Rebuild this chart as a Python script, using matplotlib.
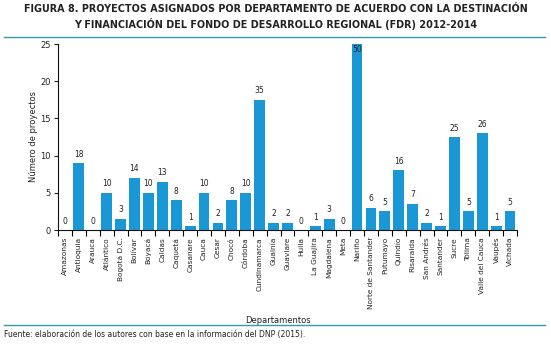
import matplotlib
matplotlib.use("Agg")
import matplotlib.pyplot as plt
from matplotlib.lines import Line2D
from matplotlib.ticker import FuncFormatter, FixedLocator
import numpy as np

plt.rcParams['font.family'] = ['Liberation Sans Narrow', 'DejaVu Sans']

departamentos = [
    "Amazonas", "Antioquia", "Arauca", "Atlántico", "Bogotá D.C.", "Bolívar",
    "Boyacá", "Caldas", "Caquetá", "Casanare", "Cauca", "Cesar", "Chocó",
    "Córdoba", "Cundinamarca", "Guainía", "Guaviare", "Huila", "La Guajira",
    "Magdalena", "Meta", "Nariño", "Norte de Santander", "Putumayo", "Quindío",
    "Risaralda", "San Andrés", "Santander", "Sucre", "Tolima",
    "Valle del Cauca", "Vaupés", "Vichada",
]
proyectos = [0, 18, 0, 10, 3, 14, 10, 13, 8, 1, 10, 2, 8, 10, 35, 2, 2, 0, 1,
             3, 0, 50, 6, 5, 16, 7, 2, 1, 25, 5, 26, 1, 5]
ytick_labels = [0, 5, 10, 15, 20, 25]

titulo = ("FIGURA 8. PROYECTOS ASIGNADOS POR DEPARTAMENTO DE ACUERDO CON LA DESTINACIÓN\n"
          "Y FINANCIACIÓN DEL FONDO DE DESARROLLO REGIONAL (FDR) 2012-2014")
fuente = "Fuente: elaboración de los autores con base en la información del DNP (2015)."

bar_color = "#1a98d5"
rule_color = "#3796ad"

fig = plt.figure(figsize=(5.51, 3.46), dpi=100)
ax = fig.add_axes([58 / 551, 1 - 230 / 346, (517 - 58) / 551, (230 - 44) / 346])

x = np.arange(len(departamentos))
ax.bar(x, proyectos, width=0.78, color=bar_color, zorder=2)

ymax = 50
for xi, v in zip(x, proyectos):
    if v + 3 > ymax:
        ax.text(xi, v - 0.4, str(v), ha="center", va="top", fontsize=5.5,
                color="#222222", zorder=3)
    else:
        ax.text(xi, v + 1.2, str(v), ha="center", va="bottom", fontsize=5.5,
                color="#222222", zorder=3)

# y axis: counts are shown at half scale (tick labels 0..25 over 0..50)
ax.set_ylim(0, ymax)
ax.yaxis.set_major_locator(FixedLocator([2 * t for t in ytick_labels]))
ax.yaxis.set_major_formatter(FuncFormatter(lambda v, _: f"{v / 2:g}"))
ax.tick_params(axis="y", labelsize=6, length=3, width=0.8, pad=2,
               colors="#222222")

ax.set_xlim(-0.5, len(departamentos) - 0.5)
ax.set_xticks(x)
ax.set_xticklabels(departamentos, rotation=90, fontsize=5.3, color="#222222")
ax.tick_params(axis="x", length=0, pad=5)
ax.set_xticks(np.arange(len(departamentos) + 1) - 0.5, minor=True)
ax.tick_params(axis="x", which="minor", length=4, width=0.8, direction="out")

for side in ("top", "right"):
    ax.spines[side].set_visible(False)
for side in ("left", "bottom"):
    ax.spines[side].set_linewidth(0.8)
    ax.spines[side].set_color("#111111")

ax.set_ylabel("Número de proyectos", fontsize=6, color="#222222")
ax.yaxis.set_label_coords(-(58 - 38) / (517 - 58), 0.5)
ax.set_xlabel("Departamentos", fontsize=6, color="#222222")
ax.xaxis.set_label_coords((278 - 58) / (517 - 58), -(316 - 230) / (230 - 44))

fig.text(0.5, 1 - 17 / 346, titulo, ha="center", va="center", fontsize=6.9,
         fontweight="bold", color="#222222", linespacing=1.3)

fig.add_artist(Line2D([4 / 551, 545 / 551], [1 - 37 / 346] * 2,
                      color=rule_color, lw=1.0))
fig.add_artist(Line2D([4 / 551, 545 / 551], [1 - 325 / 346] * 2,
                      color=rule_color, lw=1.0))
fig.text(4 / 551, 1 - 335 / 346, fuente, ha="left", va="center", fontsize=5.5,
         color="#222222")

fig.savefig("out.png", dpi=100)
